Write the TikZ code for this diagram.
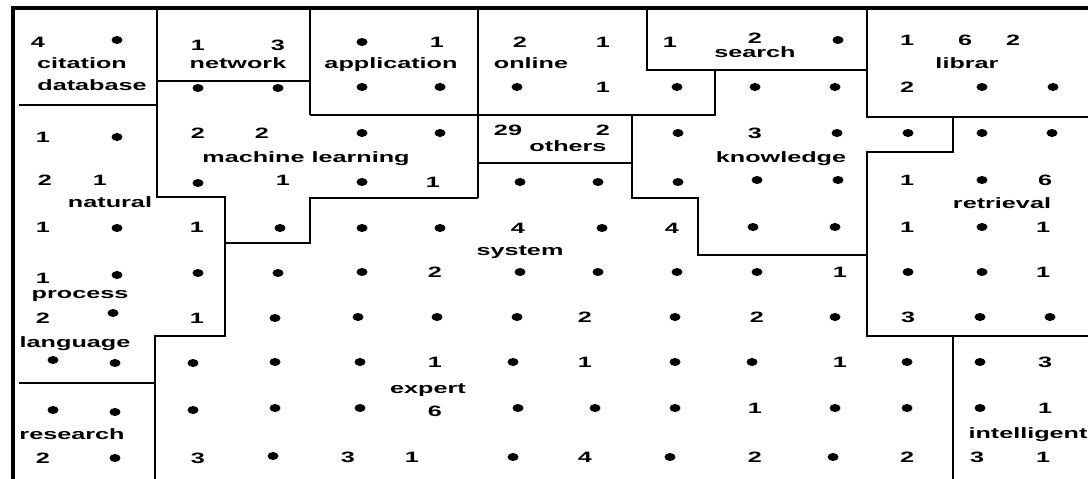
\documentclass[tikz,border=0pt]{standalone}
\usepackage{fontspec}
\setmainfont{Liberation Sans}
\usetikzlibrary{shapes.geometric}
\newcommand{\stretchtxt}[1]{\scalebox{1.68}[1]{#1}}
\tikzset{
  num/.style={inner sep=0pt, font=\bfseries\fontsize{15}{15}\selectfont, text height=10.8pt, text depth=0pt},
  lbl/.style={num},
  dotmark/.style={ellipse, fill=black, draw=none, inner sep=0pt, minimum width=11pt, minimum height=8pt},
  bound/.style={line width=2.6pt, line join=miter},
  frame/.style={line width=3.4pt}
}
\begin{document}
\begin{tikzpicture}[x=1pt,y=-1pt]
\useasboundingbox (0,0) rectangle (1088,479);
% outer frame
\draw[frame] (13,479) -- (13,8) -- (1088,8);
% region boundaries
\draw[bound] (19,105) -- (157,105);
\draw[bound] (157,8) -- (157,197) -- (225,197) -- (225,336) -- (155,336) -- (155,479);
\draw[bound] (19,383) -- (155,383);
\draw[bound] (157,81) -- (310,81);
\draw[bound] (310,8) -- (310,115);
\draw[bound] (310,115) -- (715,115) -- (715,70);
\draw[bound] (478,8) -- (478,198);
\draw[bound] (225,243) -- (310,243) -- (310,198) -- (478,198);
\draw[bound] (647,8) -- (647,70) -- (867,70);
\draw[bound] (478,163) -- (632,163);
\draw[bound] (632,115) -- (632,198) -- (698,198) -- (698,255) -- (867,255);
\draw[bound] (867,8) -- (867,117) -- (1088,117);
\draw[bound] (953,117) -- (953,152) -- (867,152) -- (867,336) -- (1088,336);
\draw[bound] (953,336) -- (953,479);
% numbers
\foreach \x/\y/\t [count=\i] in {
  38/42/4, 198/45/1, 278/45/3, 437/42/1, 520/42/2, 603/42/1, 670/42/1, 755/38/2, 907/40/1, 965/40/6, 1013/40/2,
  603/87/1, 907/87/2,
  43/137/1, 198/133/2, 262/133/2, 508/130/29, 603/130/2, 755/133/3,
  45/180/2, 100/180/1, 283/180/1, 433/182/1, 907/180/1, 1045/180/6,
  43/227/1, 197/227/1, 518/228/4, 672/228/4, 907/227/1, 1043/227/1,
  43/278/1, 435/272/2, 840/272/1, 1043/272/1,
  43/318/2, 197/318/1, 585/317/2, 757/317/2, 908/317/3,
  435/362/1, 585/362/1, 840/362/1, 1045/362/3,
  435/411/6, 755/408/1, 1045/408/1,
  43/458/2, 198/458/3, 348/457/3, 412/457/1, 585/457/4, 755/457/2, 907/457/2, 977/457/3, 1043/457/1}
  \node[num] (n\i) at (\x,\y) {\stretchtxt{\t}};
% dots
\foreach \x/\y [count=\i] in {
  117/40, 362/42, 838/40,
  198/88, 278/88, 362/87, 440/87, 517/87, 677/87, 755/87, 835/87, 982/87, 1053/87,
  117/137, 362/133, 440/133, 678/133, 837/133, 908/133, 982/133, 1052/133,
  198/183, 362/182, 520/182, 598/182, 678/182, 757/180, 838/180, 982/180,
  117/228, 280/228, 362/228, 440/228, 602/228, 753/227, 835/227, 982/227,
  117/275, 198/273, 278/273, 362/272, 520/272, 598/272, 677/272, 757/272, 908/272, 982/272,
  113/313, 275/318, 358/317, 437/317, 517/317, 675/317, 835/317, 980/317, 1050/317,
  53/360, 115/363, 193/363, 275/362, 360/362, 513/362, 675/362, 752/362, 907/362, 980/362,
  53/410, 115/412, 193/410, 275/408, 360/408, 518/408, 595/408, 675/408, 835/408, 907/408, 980/408,
  115/458, 273/456, 513/457, 670/457, 833/457}
  \node[dotmark] (d\i) at (\x,\y) {};
% region labels
\foreach \x/\y/\t [count=\i] in {
  82/63/citation, 92/85/database, 238/63/network, 391/63/application, 531/63/online,
  755/52/search, 967/63/librar, 306/157/machine learning, 568/146/others, 781/157/knowledge,
  110/202/natural, 1002/203/retrieval, 520/250/system, 80/293/process, 75/342/language,
  428/388/expert, 72/434/research, 1028/433/intelligent}
  \node[lbl] (l\i) at (\x,\y) {\stretchtxt{\t}};
\end{tikzpicture}
\end{document}
